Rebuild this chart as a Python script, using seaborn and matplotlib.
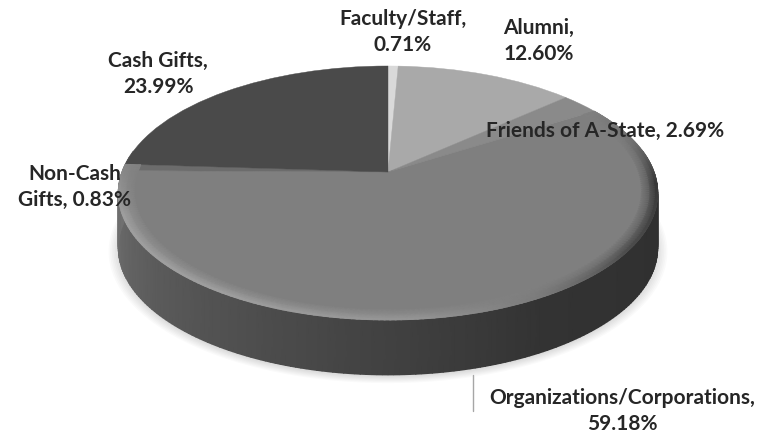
import numpy as np
import matplotlib
matplotlib.use('Agg')
import matplotlib.pyplot as plt
import matplotlib.transforms as mtransforms
import seaborn as sns

# Slices, clockwise from 12 o'clock
names = ['Faculty/Staff', 'Alumni', 'Friends of A-State',
         'Organizations/Corporations', 'Non-Cash Gifts', 'Cash Gifts']
values = [0.71, 12.60, 2.69, 59.18, 0.83, 23.99]
colors = ['#d9d9d9', '#a9a9a9', '#8a8a8a', '#7f7f7f', '#6c6c6c', '#4a4a4a']

label_text = ['Faculty/Staff,\n0.71%', 'Alumni,\n12.60%', 'Friends of A-State, 2.69%',
              'Organizations/Corporations,\n59.18%', 'Non-Cash\nGifts, 0.83%', 'Cash Gifts,\n23.99%']
label_x = [403, 539, 605, 622, 75, 158]
label_y = [32, 41, 131, 411, 187, 74]

# Shading of the side and the bevel, by angle clockwise from the top
side_angles = [80, 110, 150, 190, 230, 262, 280]
side_grays = ['#2e2e2e', '#303030', '#333333', '#464646', '#5a5a5a', '#6e6e6e', '#727272']
bevel_angles = [58, 75, 95, 125, 150, 175, 215, 250, 274]
bevel_levels = [0.50, 0.44, 0.22, 0.30, 0.48, 0.58, 0.62, 0.62, 0.52]

CX, CY = 388, 172
A, B, K = 266, 123.5, 0.165
DEPTH = 55


def project(u, v):
    w = 1 + K * v
    return CX + A * u / w, CY - B * v / w


class Tilt(mtransforms.Transform):
    input_dims = 2
    output_dims = 2
    is_separable = False
    has_inverse = False

    def transform_non_affine(self, values):
        x, y = project(values[:, 0], values[:, 1])
        return np.column_stack([x, y])


sns.set_theme(style='white')
plt.rcParams['font.family'] = ['Lato', 'DejaVu Sans']

fig, ax = plt.subplots(figsize=(7.72, 4.33), dpi=100)
fig.subplots_adjust(left=0, right=1, top=1, bottom=0)

# soft shadow under the disc
t = np.radians(np.linspace(0, 360, 241))
for grow in np.linspace(1.0, 1.035, 7):
    sx, sy = project(grow * np.sin(t), grow * np.cos(t))
    ax.fill(sx, sy + DEPTH + 2, color='black', alpha=0.02, lw=0, zorder=1)

# side of the disc
side_cmap = sns.blend_palette(side_grays, as_cmap=True)
th = np.linspace(80, 280, 201)
rx, ry = project(np.sin(np.radians(th)), np.cos(np.radians(th)))
s = np.linspace(0, 1, 2)[:, None]
shade = np.interp(th, side_angles, np.linspace(0, 1, len(side_angles)))
ax.pcolormesh(np.tile(rx, (2, 1)), ry + s * DEPTH, np.tile(shade, (2, 1)),
              cmap=side_cmap, vmin=0, vmax=1, shading='gouraud', zorder=2)

# top face
wedges, _ = ax.pie(values, colors=sns.color_palette(colors), startangle=90, counterclock=False,
                   radius=1, wedgeprops={'linewidth': 0.3, 'zorder': 3})
tilt = Tilt()
for w in wedges:
    w.set_edgecolor(w.get_facecolor())
    w.set_transform(tilt + ax.transData)
    w.set_clip_on(False)

# bevel around the front of the top face
th = np.linspace(57.6, 273.6, 217)
radii = np.array([0.94, 0.972, 0.993, 1.0])[:, None]
bx, by = project(radii * np.sin(np.radians(th)), radii * np.cos(np.radians(th)))
level = np.interp(th, bevel_angles, bevel_levels)
mesh = np.vstack([np.full_like(level, 0.5), 0.5 + (level - 0.5) * 0.55, level, level])
ax.pcolormesh(bx, by, mesh, cmap='gray', vmin=0, vmax=1, shading='gouraud', zorder=4)

# leader line of the biggest slice
ax.plot([473, 473], [375, 411], color='#a6a6a6', lw=1, zorder=5)

for txt, x, y in zip(label_text, label_x, label_y):
    ax.text(x, y, txt, ha='center', va='center', fontsize=15, fontweight='bold',
            color='#262626', linespacing=1.38, zorder=6)

ax.set_aspect('auto')
ax.set_xlim(0, 772)
ax.set_ylim(433, 0)
ax.axis('off')

fig.savefig('out.png', dpi=100)
